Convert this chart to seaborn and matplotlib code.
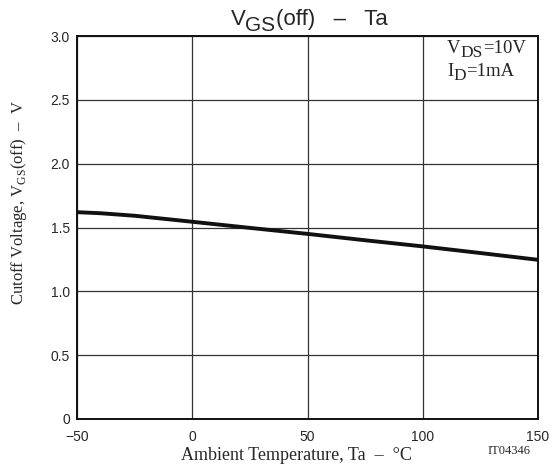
import matplotlib
matplotlib.use('Agg')
import matplotlib.pyplot as plt
from matplotlib.transforms import IdentityTransform
import seaborn as sns
import pandas as pd

# Values
temp_c = [-50, -40, -25, 0, 25, 50, 75, 100, 125, 150]
vgs_off = [1.62, 1.612, 1.592, 1.545, 1.497, 1.45, 1.40, 1.352, 1.30, 1.247]

x_ticks = [-50, 0, 50, 100, 150]
x_tick_labels = ['\u221250', '0', '50', '100', '150']
y_ticks = [0, 0.5, 1.0, 1.5, 2.0, 2.5, 3.0]
y_tick_labels = ['0', '0.5', '1.0', '1.5', '2.0', '2.5', '3.0']

df = pd.DataFrame({'Ta': temp_c, 'VGS': vgs_off})

sns.set_style('white')
plt.rcParams['font.family'] = ['Liberation Sans', 'DejaVu Sans']
plt.rcParams['mathtext.fontset'] = 'custom'
plt.rcParams['mathtext.rm'] = 'Liberation Serif'
plt.rcParams['mathtext.sf'] = 'Liberation Sans'

W, H = 552, 471
fig = plt.figure(figsize=(W / 100, H / 100), dpi=100)
ax = fig.add_axes([77 / W, 1 - 419 / H, (538 - 77) / W, (419 - 36) / H])


def draw_runs(x, y, runs, ha='left'):
    # text pieces with their own sizes and baseline drops, in pixels from top-left
    renderer = fig.canvas.get_renderer()
    pieces = []
    cur = 0.0
    for s, size, drop, fam in runs:
        t = fig.text(0, 0, s, fontsize=size, family=fam, va='baseline',
                     transform=IdentityTransform())
        w = t.get_window_extent(renderer).width
        pieces.append((t, cur, drop))
        cur += w
    start = x - cur / 2 if ha == 'center' else x
    for t, off, drop in pieces:
        t.set_position((start + off, H - y - drop))


sns.lineplot(data=df, x='Ta', y='VGS', ax=ax, color='#111111', linewidth=2.8)

ax.set_xlim(-50, 150)
ax.set_ylim(0, 3.0)
ax.set_xticks(x_ticks)
ax.set_xticklabels(x_tick_labels, fontsize=10)
ax.set_yticks(y_ticks)
ax.set_yticklabels(y_tick_labels, fontsize=10)
ax.tick_params(length=0)
ax.tick_params(axis='x', pad=8)
ax.tick_params(axis='y', pad=5)
ax.grid(True, color='#333333', linewidth=0.9)
for s in ax.spines.values():
    s.set_color('#111111')
    s.set_linewidth(1.4)

ax.set_xlabel('Ambient Temperature, Ta  \u2013  \u00b0C', fontsize=13,
              family='Liberation Serif')
ax.xaxis.set_label_coords(0.477, -0.073)
ax.set_ylabel('Cutoff Voltage, V$_{\\rm GS}$(off)  \u2013  V',
              fontsize=12, family='Liberation Serif')
ax.yaxis.set_label_coords(-0.105, 0.565)

sans = 'Liberation Sans'
serif = 'Liberation Serif'
draw_runs(309, 25, [('V', 16, 0, sans), ('GS', 15, 6, sans),
                    ('(off)   \u2013   Ta', 16, 0, sans)], ha='center')
draw_runs(447, 53, [('V', 13.5, 0, serif), ('DS', 12.5, 4, serif),
                    ('=10V', 13.5, 0, serif)])
draw_runs(447, 76, [('I', 13.5, 0, serif), ('D', 12.5, 4, serif),
                    ('=1mA', 13.5, 0, serif)])

fig.text(0.962, 0.042, 'IT04346', ha='right', va='center', fontsize=9,
         family='Liberation Serif')

fig.savefig('out.png', dpi=100)
